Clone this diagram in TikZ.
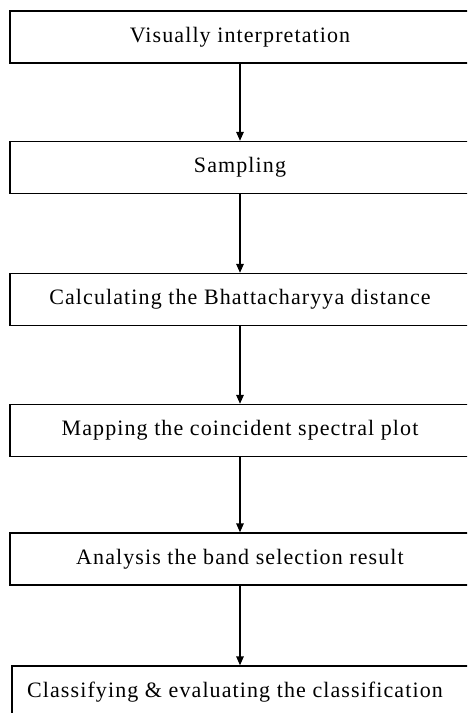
\documentclass[tikz,border=0pt]{standalone}
\usepackage{fontspec}
\setmainfont{Liberation Serif}[LetterSpace=5]
\usetikzlibrary{arrows.meta}

\tikzset{
  stage/.style={draw=black, line width=1.4pt, minimum width=460pt, minimum height=52pt,
    inner sep=0pt, font=\fontsize{22}{26}\selectfont},
  flow/.style={line width=1.4pt, -{Triangle[length=9pt,width=7.5pt]}}
}

\begin{document}
\begin{tikzpicture}[x=1pt, y=-1pt]

\useasboundingbox (0,0) rectangle (467,713);
\clip (0,0) rectangle (467,713);

\node[stage] (vis) at (240,37) {Visually interpretation};
\node[stage] (samp) at (240,167.5) {Sampling};
\node[stage] (bhat) at (240,299.5) {Calculating the Bhattacharyya distance};
\node[stage] (plot) at (240,430.5) {Mapping the coincident spectral plot};
\node[stage] (band) at (240,559) {Analysis the band selection result};
\node[stage, minimum width=470pt] (cls) at (247,692) {\hspace*{-24pt}Classifying \& evaluating the classification};

\draw[flow] (vis) -- (samp);
\draw[flow] (samp) -- (bhat);
\draw[flow] (bhat) -- (plot);
\draw[flow] (plot) -- (band);
\draw[flow] (band) -- (cls.north -| band.south);
\end{tikzpicture}
\end{document}
